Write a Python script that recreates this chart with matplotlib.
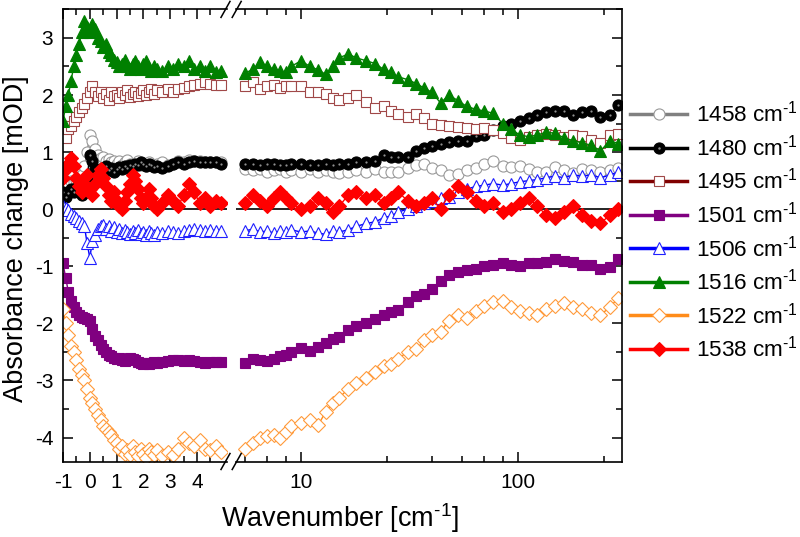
import matplotlib.pyplot as plt
from matplotlib.lines import Line2D
from matplotlib.ticker import FixedLocator, NullFormatter

plt.rcParams['font.family'] = ['Liberation Sans', 'DejaVu Sans']
plt.rcParams['mathtext.fontset'] = 'custom'
plt.rcParams['mathtext.rm'] = 'Liberation Sans'
plt.rcParams['mathtext.default'] = 'regular'
plt.rcParams['axes.unicode_minus'] = False

# x values of the linear part (left of the break)
x_lin = [-1.0, -0.9, -0.8, -0.7, -0.6, -0.5, -0.4, -0.3, -0.2, -0.1,
         0.0, 0.1, 0.2, 0.3, 0.4, 0.5, 0.6, 0.7, 0.8, 0.9,
         1.0, 1.1, 1.2, 1.3, 1.4, 1.5, 1.6, 1.7, 1.8, 1.9,
         2.0, 2.1, 2.2, 2.3, 2.4, 2.5,
         2.7, 2.9, 3.1, 3.3, 3.5, 3.7, 3.9, 4.1, 4.3, 4.5, 4.7, 4.9]
# x values of the log part (right of the break)
x_log = [5.5, 6, 6.5, 7, 7.5, 8, 8.5, 9, 10, 11, 12, 13, 14, 15, 16.5,
         18, 20, 22, 24, 26, 28, 31, 34, 37, 40, 44, 48, 53, 58, 64,
         70, 77, 85, 93, 102, 112, 123, 135, 148, 163, 180, 198, 218, 240, 265, 290]

labels = ['1458', '1480', '1495', '1501', '1506', '1516', '1522', '1538']

y1458_lin = [0.4, 0.42, 0.45, 0.5, 0.48, 0.52, 0.55, 0.6, 0.75, 1.0,
             1.3, 1.2, 1.05, 0.95, 0.9, 0.92, 0.85, 0.88, 0.82, 0.85,
             0.8, 0.84, 0.78, 0.82, 0.86, 0.8, 0.76, 0.8, 0.84, 0.78,
             0.8, 0.76, 0.82, 0.8, 0.78, 0.8,
             0.82, 0.78, 0.8, 0.84, 0.82, 0.86, 0.85, 0.84, 0.82, 0.83, 0.82, 0.82]
y1458_log = [0.7, 0.68, 0.7, 0.66, 0.68, 0.7, 0.66, 0.68, 0.66, 0.7, 0.66, 0.68, 0.66, 0.64, 0.66,
             0.68, 0.66, 0.7, 0.66, 0.65, 0.66, 0.72, 0.78, 0.8, 0.72, 0.68, 0.6, 0.62, 0.68, 0.72,
             0.8, 0.85, 0.76, 0.74, 0.76, 0.7, 0.65, 0.66, 0.74, 0.68, 0.64, 0.7, 0.68, 0.66, 0.68, 0.72]

y1480_lin = [0.3, 0.22, 0.28, 0.35, 0.3, 0.38, 0.3, 0.25, 0.3, 0.55,
             0.95, 0.85, 0.7, 0.62, 0.7, 0.65, 0.75, 0.68, 0.72, 0.66,
             0.7, 0.74, 0.7, 0.76, 0.72, 0.78, 0.75, 0.8, 0.78, 0.82,
             0.8, 0.76, 0.8, 0.78, 0.74, 0.76,
             0.72, 0.75, 0.8, 0.82, 0.8, 0.82, 0.84, 0.82, 0.83, 0.82, 0.82, 0.8]
y1480_log = [0.8, 0.8, 0.78, 0.8, 0.8, 0.78, 0.78, 0.8, 0.8, 0.78, 0.78, 0.8, 0.78, 0.8, 0.8,
             0.82, 0.82, 0.85, 0.95, 0.92, 0.92, 0.92, 1.02, 1.08, 1.1, 1.15, 1.18, 1.2, 1.2, 1.28,
             1.3, 1.38, 1.45, 1.5, 1.55, 1.6, 1.65, 1.7, 1.72, 1.72, 1.65, 1.7, 1.72, 1.62, 1.65, 1.82]

y1495_lin = [1.3, 1.25, 1.4, 1.45, 1.55, 1.62, 1.7, 1.78, 1.85, 1.95,
             2.05, 2.15, 2.05, 1.98, 2.05, 1.95, 2.02, 1.92, 2.05, 1.98,
             2.0, 1.95, 2.05, 2.0, 2.08, 1.96, 2.02, 2.06, 1.98, 2.04,
             2.08, 2.0, 2.06, 2.1, 2.02, 2.08,
             2.06, 2.1, 2.05, 2.1, 2.12, 2.15, 2.18, 2.2, 2.22, 2.2, 2.18, 2.17]
y1495_log = [2.15, 2.22, 2.1, 2.15, 2.18, 2.12, 2.15, 2.15, 2.15, 2.05, 2.05, 2.02, 1.95, 1.92, 1.95,
             2.0, 1.88, 1.78, 1.8, 1.72, 1.66, 1.62, 1.66, 1.6, 1.5, 1.47, 1.45, 1.44, 1.42, 1.4,
             1.42, 1.38, 1.33, 1.25, 1.22, 1.26, 1.3, 1.32, 1.3, 1.27, 1.3, 1.28, 1.22, 1.16, 1.3, 1.32]

y1501_lin = [-0.95, -1.2, -1.45, -1.6, -1.72, -1.8, -1.85, -1.88, -1.9, -1.92,
             -1.95, -2.1, -2.22, -2.3, -2.38, -2.45, -2.5, -2.55, -2.58, -2.6,
             -2.62, -2.6, -2.64, -2.66, -2.62, -2.6, -2.62, -2.65, -2.68, -2.7,
             -2.72, -2.7, -2.72, -2.7, -2.68, -2.7,
             -2.68, -2.66, -2.65, -2.64, -2.66, -2.64, -2.66, -2.68, -2.7, -2.68, -2.68, -2.68]
y1501_log = [-2.7, -2.62, -2.64, -2.66, -2.62, -2.58, -2.55, -2.5, -2.44, -2.48, -2.42, -2.35, -2.28, -2.24, -2.12,
             -2.05, -2.0, -1.92, -1.86, -1.8, -1.76, -1.62, -1.52, -1.48, -1.4, -1.25, -1.15, -1.1, -1.06, -1.04,
             -1.0, -0.98, -0.95, -0.98, -1.0, -0.95, -0.94, -0.92, -0.88, -0.9, -0.92, -0.98, -0.98, -1.05, -1.02, -0.88]

y1506_lin = [0.05, 0.02, -0.02, -0.08, -0.12, -0.15, -0.2, -0.25, -0.3, -0.6,
             -0.85, -0.55, -0.45, -0.35, -0.3, -0.28, -0.35, -0.3, -0.38, -0.32,
             -0.4, -0.35, -0.42, -0.36, -0.4, -0.44, -0.38, -0.42, -0.36, -0.44,
             -0.4, -0.45, -0.38, -0.42, -0.46, -0.4,
             -0.42, -0.38, -0.4, -0.42, -0.38, -0.36, -0.35, -0.36, -0.38, -0.36, -0.38, -0.38]
y1506_log = [-0.38, -0.35, -0.4, -0.38, -0.42, -0.38, -0.4, -0.36, -0.4, -0.38, -0.42, -0.44, -0.38, -0.4, -0.36,
             -0.3, -0.25, -0.22, -0.15, -0.12, -0.05, 0.0, 0.05, 0.1, 0.15, 0.2, 0.22, 0.3, 0.35, 0.4,
             0.42, 0.45, 0.42, 0.45, 0.48, 0.5, 0.52, 0.55, 0.58, 0.55, 0.6, 0.58, 0.6, 0.55, 0.6, 0.65]

y1516_lin = [1.55, 1.8, 2.0, 2.25, 2.5, 2.7, 2.9, 3.1, 3.3, 3.2,
             3.1, 3.25, 3.15, 3.0, 2.95, 2.85, 2.9, 2.75, 2.7, 2.62,
             2.58, 2.5, 2.55, 2.62, 2.5, 2.45, 2.55, 2.6, 2.5, 2.45,
             2.55, 2.6, 2.48, 2.42, 2.5, 2.46,
             2.42, 2.5, 2.45, 2.55, 2.5, 2.6, 2.45, 2.5, 2.42, 2.5, 2.4, 2.42]
y1516_log = [2.38, 2.45, 2.58, 2.5, 2.45, 2.42, 2.4, 2.5, 2.6, 2.5, 2.44, 2.36, 2.5, 2.65, 2.72,
             2.65, 2.6, 2.55, 2.45, 2.4, 2.32, 2.27, 2.2, 2.12, 2.05, 1.86, 2.0, 1.9, 1.8, 1.75,
             1.72, 1.68, 1.5, 1.4, 1.3, 1.27, 1.3, 1.35, 1.33, 1.25, 1.2, 1.16, 1.12, 1.02, 1.2, 1.15]

y1522_lin = [-1.75, -2.0, -2.2, -2.4, -2.5, -2.65, -2.8, -2.9, -3.0, -3.15,
             -3.3, -3.4, -3.5, -3.6, -3.7, -3.8, -3.85, -3.9, -3.95, -4.05,
             -4.1, -4.2, -4.15, -4.28, -4.22, -4.3, -4.15, -4.25, -4.32, -4.2,
             -4.28, -4.35, -4.2, -4.25, -4.3, -4.22,
             -4.32, -4.25, -4.3, -4.2, -4.0, -4.1, -4.15, -4.05, -4.2, -4.22, -4.15, -4.25]
y1522_log = [-4.2, -4.1, -4.0, -3.98, -3.95, -4.0, -3.9, -3.8, -3.75, -3.7, -3.78, -3.55, -3.4, -3.3, -3.15,
             -3.05, -2.95, -2.85, -2.75, -2.72, -2.62, -2.5, -2.45, -2.3, -2.2, -2.15, -1.95, -1.85, -1.9, -1.78,
             -1.7, -1.62, -1.6, -1.72, -1.78, -1.82, -1.85, -1.75, -1.7, -1.65, -1.72, -1.75, -1.82, -1.85, -1.72, -1.55]

y1538_lin = [0.55, 0.7, 0.8, 0.9, 0.75, 0.55, 0.4, 0.3, 0.45, 0.6,
             0.35, 0.25, 0.45, 0.6, 0.7, 0.55, 0.4, 0.25, 0.15, 0.3,
             0.15, 0.05, 0.0, 0.15, 0.3, 0.45, 0.6, 0.5, 0.35, 0.2,
             0.1, 0.2, 0.35, 0.2, 0.05, 0.0,
             0.1, 0.25, 0.15, 0.05, 0.25, 0.45, 0.3, 0.1, 0.2, 0.05, 0.15, 0.1]
y1538_log = [0.1, 0.25, 0.15, 0.05, 0.2, 0.3, 0.2, 0.1, 0.0, 0.05, 0.2, 0.1, -0.05, 0.05, 0.25,
             0.3, 0.2, 0.25, 0.1, 0.2, 0.3, 0.15, 0.05, 0.1, 0.2, 0.0, 0.25, 0.4, 0.3, 0.15,
             0.05, 0.1, -0.05, 0.0, 0.1, 0.2, 0.05, -0.1, -0.15, -0.05, 0.05, -0.1, -0.2, -0.25, -0.1, 0.0]

lin_data = [y1458_lin, y1480_lin, y1495_lin, y1501_lin, y1506_lin, y1516_lin, y1522_lin, y1538_lin]
log_data = [y1458_log, y1480_log, y1495_log, y1501_log, y1506_log, y1516_log, y1522_log, y1538_log]

# line colour, marker, marker face, marker edge, marker size
styles = [
    ('#808080', 'o', 'white', '#999999', 8.0),
    ('black', 'o', 'black', 'black', 8.0),
    ('#800000', 's', 'white', '#a04848', 7.5),
    ('#800080', 's', '#800080', '#800080', 7.5),
    ('#0000ff', '^', 'white', '#2020ff', 8.5),
    ('#008000', '^', '#008000', '#008000', 8.5),
    ('#ff8c1a', 'D', 'white', '#ff9a3a', 7.0),
    ('#ff0000', 'D', '#ff0000', '#ff0000', 7.5),
]

unit = r' cm$^{\text{-}1}$'

fig = plt.figure(figsize=(8, 5.37), dpi=100)
W, H = 800.0, 537.0
bot, top = 461.5, 9.4
axL = fig.add_axes([63 / W, 1 - bot / H, 163.5 / W, (bot - top) / H])
axR = fig.add_axes([235.7 / W, 1 - bot / H, (621.5 - 235.7) / W, (bot - top) / H])

handles = []
for ylin, ylog, (lc, mk, mfc, mec, ms) in zip(lin_data, log_data, styles):
    sphere = mk == 'o' and mfc == 'black'
    for ax, xx, yy in ((axL, x_lin, ylin), (axR, x_log, ylog)):
        ax.plot(xx, yy, color=lc, lw=1, marker=mk, ms=ms, mfc=mfc, mec=mec, mew=0.8)
        if sphere:
            ax.plot(xx, yy, ls='none', marker='o', ms=1.6, mfc='#909090', mec='none')
    h = Line2D([], [], color=lc, lw=2.5, marker=mk, ms=ms, mfc=mfc, mec=mec, mew=0.8)
    if sphere:
        h = (h, Line2D([], [], ls='none', marker='o', ms=1.8, mfc='#909090', mec='none'))
    handles.append(h)

for ax in (axL, axR):
    ax.axhline(0, color='black', lw=1.2, zorder=0)
    ax.set_ylim(-4.42, 3.5)
    ax.set_yticks(range(-4, 4))
    ax.yaxis.set_minor_locator(FixedLocator([v + 0.5 for v in range(-5, 4)]))
    ax.tick_params(which='both', direction='in', top=True, width=1.1, labelsize=15)
    ax.tick_params(which='major', length=7)
    ax.tick_params(which='minor', length=4)
    for s in ax.spines.values():
        s.set_linewidth(1.2)

axL.set_xlim(-1, 5.1)
axL.set_xticks([-1, 0, 1, 2, 3, 4])
axL.xaxis.set_minor_locator(FixedLocator([-0.5, 0.5, 1.5, 2.5, 3.5, 4.5]))
axL.spines['right'].set_visible(False)
axL.tick_params(which='both', right=False)
axL.tick_params(axis='x', pad=8)
axL.tick_params(axis='y', pad=7)

axR.set_xscale('log')
axR.set_xlim(5, 300)
axR.set_xticks([10, 100])
axR.set_xticklabels(['10', '100'])
axR.xaxis.set_minor_locator(FixedLocator([5.5, 7, 8.5, 25, 40, 55, 70, 85, 250]))
axR.xaxis.set_minor_formatter(NullFormatter())
axR.spines['left'].set_visible(False)
axR.tick_params(which='both', left=False, right=True, labelleft=False)
axR.tick_params(axis='x', pad=8)

# break marks
dx, dy = 4.5 / W, 8 / H
for xc in (axL.get_position().x1 - 1 / W, axR.get_position().x0 + 1 / W):
    for yc in (1 - bot / H, 1 - top / H):
        fig.add_artist(Line2D([xc - dx, xc + dx], [yc - dy, yc + dy], color='black', lw=1.1,
                              transform=fig.transFigure))

fig.text(16 / W, 1 - 239 / H, 'Absorbance change [mOD]', rotation=90,
         ha='center', va='center', fontsize=19.5)
fig.text(340 / W, 1 - 518 / H, 'Wavenumber [cm$^{\\text{-}1}$]', ha='center', va='center',
         fontsize=19.5)

fig.legend(handles, [l + unit for l in labels], loc='upper left',
           bbox_to_anchor=(630 / W, 1 - 101 / H), frameon=False, fontsize=16.2,
           handlelength=2.55, handletextpad=0.38, labelspacing=0.34,
           borderpad=0, borderaxespad=0)

fig.savefig('out.png', dpi=100)
